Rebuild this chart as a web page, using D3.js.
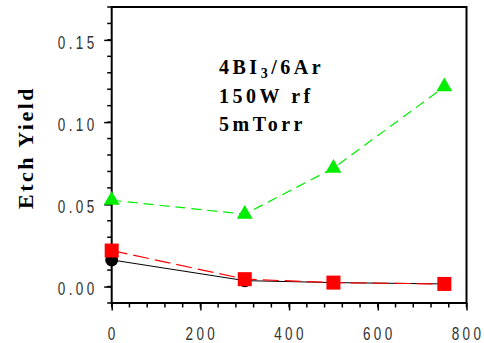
<!DOCTYPE html>
<html><head><meta charset="utf-8">
<script src="https://cdn.jsdelivr.net/npm/d3@7"></script>
<style>body{margin:0;background:#fff}svg{display:block}</style>
</head><body>
<script>
const xValues = [0, 300, 500, 750];
const blackSeries = [0.0162, 0.0036, 0.0024, 0.0016];
const redSeries = [0.0219, 0.0045, 0.0024, 0.0016];
const greenSeries = [0.0525, 0.044, 0.072, 0.1215];
const xTicks = [0, 200, 400, 600, 800];
const yTicks = [0.00, 0.05, 0.10, 0.15];
const annotation = ["4BI|3|/6Ar", "150W rf", "5mTorr"];
const yTitle = "Etch Yield";

const W = 484, H = 343;
const svg = d3.select("body").append("svg").attr("width", W).attr("height", H);
const x = d3.scaleLinear().domain([0, 800]).range([111.7, 466.5]);
const y = d3.scaleLinear().domain([-0.01, 0.17]).range([303, 7]);
const tickFont = "'Liberation Sans', Arial, sans-serif";
const SX = 0.75, LS = 4.5;

// frame
svg.append("rect").attr("x", x(0)).attr("y", y(0.17)).attr("width", x(800) - x(0)).attr("height", y(-0.01) - y(0.17))
  .attr("fill", "none").attr("stroke", "#000").attr("stroke-width", 2);

// y minor ticks
const yMinor = d3.range(-0.01, 0.1701, 0.01);
svg.append("g").selectAll("line").data(yMinor).join("line")
  .attr("x1", x(0) - 4.5).attr("x2", x(0)).attr("y1", d => y(d)).attr("y2", d => y(d))
  .attr("stroke", "#000").attr("stroke-width", 1.5);
const yAxis = d3.axisLeft(y).tickValues(yTicks).tickSize(7.5).tickPadding(10).tickFormat(d3.format(".2f"));
const gy = svg.append("g").attr("transform", `translate(${x(0)},0)`).call(yAxis);
gy.select(".domain").remove();
gy.selectAll(".tick line").attr("stroke-width", 1.5);
gy.selectAll("text").attr("font-family", tickFont).attr("font-size", 18)
  .attr("letter-spacing", LS).attr("fill", "#333").attr("dy", "0.45em")
  .attr("x", -(7.5 + 10) / SX + LS).attr("transform", `scale(${SX},1)`);

// x minor ticks
const xMinor = d3.range(0, 801, 40);
svg.append("g").selectAll("line").data(xMinor).join("line")
  .attr("x1", d => x(d)).attr("x2", d => x(d)).attr("y1", y(-0.01)).attr("y2", y(-0.01) + 4.5)
  .attr("stroke", "#000").attr("stroke-width", 1.5);
const xAxis = d3.axisBottom(x).tickValues(xTicks).tickSize(7.5).tickPadding(16.5).tickFormat(d3.format("d"));
const gx = svg.append("g").attr("transform", `translate(0,${y(-0.01)})`).call(xAxis);
gx.select(".domain").remove();
gx.selectAll(".tick line").attr("stroke-width", 1.5);
gx.selectAll("text").attr("font-family", tickFont).attr("font-size", 18)
  .attr("letter-spacing", LS).attr("fill", "#333").attr("dx", LS / 2 - 1).attr("transform", `scale(${SX},1)`);

// y title
svg.append("text").attr("transform", `translate(33,147.5) rotate(-90)`).attr("text-anchor", "middle")
  .attr("font-family", "Liberation Serif, Times New Roman, serif").attr("font-weight", "bold")
  .attr("font-size", 22).attr("letter-spacing", 2.5).text(yTitle);

// annotation
const ann = svg.append("g").attr("font-family", "Liberation Serif, Times New Roman, serif")
  .attr("font-weight", "bold").attr("font-size", 20).attr("letter-spacing", 3.5);
annotation.forEach((t, i) => {
  const txt = ann.append("text").attr("x", 219).attr("y", 74 + i * 28.5);
  const parts = t.split("|");
  if (parts.length > 1) {
    txt.append("tspan").text(parts[0]);
    txt.append("tspan").attr("font-size", 14).attr("dy", 4).text(parts[1]);
    txt.append("tspan").attr("dy", -4).text(parts[2]);
  } else txt.text(t);
});

const line = d3.line().x((d, i) => x(xValues[i])).y(d => y(d));

// black series
svg.append("path").datum(blackSeries).attr("d", line).attr("fill", "none").attr("stroke", "#000").attr("stroke-width", 1);
svg.append("g").selectAll("circle").data(blackSeries).join("circle")
  .attr("cx", (d, i) => x(xValues[i])).attr("cy", d => y(d)).attr("r", 6.5).attr("fill", "#000");

// red series
svg.append("path").datum(redSeries).attr("d", line).attr("fill", "none").attr("stroke", "#ff0000")
  .attr("stroke-width", 1.2).attr("stroke-dasharray", "16,6");
svg.append("g").selectAll("rect").data(redSeries).join("rect")
  .attr("x", (d, i) => x(xValues[i]) - 7).attr("y", d => y(d) - 7).attr("width", 14).attr("height", 14).attr("fill", "#ff0000");

// green series
svg.append("path").datum(greenSeries).attr("d", line).attr("fill", "none").attr("stroke", "#00ee00")
  .attr("stroke-width", 1.2).attr("stroke-dasharray", "10,6");
const tri = d3.symbol().type(d3.symbolTriangle).size(110);
svg.append("g").selectAll("path").data(greenSeries).join("path")
  .attr("transform", (d, i) => `translate(${x(xValues[i])},${y(d)})`).attr("d", tri).attr("fill", "#00ee00");
</script>
</body></html>
